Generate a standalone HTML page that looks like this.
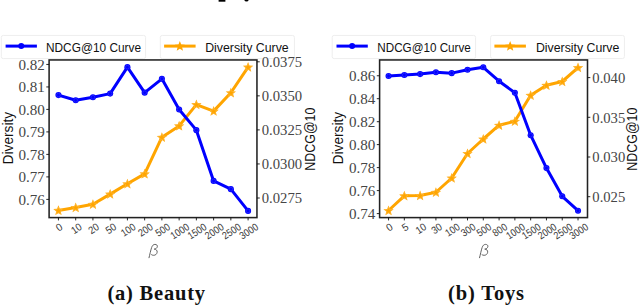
<!DOCTYPE html>
<html><head><meta charset="utf-8"><style>
html,body{margin:0;padding:0;background:#fff;width:640px;height:307px;overflow:hidden;}
svg{display:block;}
</style></head><body>
<svg width="640" height="307" viewBox="0 0 640 307"><rect x="218.6" y="0" width="6.8" height="1.7" fill="#000"/>
<ellipse cx="246.5" cy="0.2" rx="1.9" ry="1.4" fill="#000"/>
<rect x="1.3" y="35.4" width="144.29999999999998" height="23.2" rx="2" fill="#fff" stroke="#eeeeee" stroke-width="1"/>
<rect x="160.3" y="35.4" width="134.09999999999997" height="23.2" rx="2" fill="#fff" stroke="#eeeeee" stroke-width="1"/>
<line x1="5.6" y1="46.1" x2="36.9" y2="46.1" stroke="#0000ff" stroke-width="3"/>
<circle cx="21.25" cy="46.1" r="3" fill="#0000ff"/>
<text x="46.0" y="51.5" style="font-family:'Liberation Sans', sans-serif;font-size:13.2px;font-weight:normal;font-style:normal" text-anchor="start" fill="#111" textLength="95" lengthAdjust="spacingAndGlyphs" >NDCG@10 Curve</text>
<line x1="164.10000000000002" y1="46.1" x2="195.60000000000002" y2="46.1" stroke="#ffa500" stroke-width="3"/>
<polygon points="179.85,41.10 181.22,44.51 184.89,44.76 182.07,47.12 182.97,50.69 179.85,48.73 176.73,50.69 177.63,47.12 174.81,44.76 178.48,44.51" fill="#ffa500"/>
<text x="205.2" y="51.5" style="font-family:'Liberation Sans', sans-serif;font-size:13.2px;font-weight:normal;font-style:normal" text-anchor="start" fill="#111" textLength="83.5" lengthAdjust="spacingAndGlyphs" >Diversity Curve</text>
<rect x="49.1" y="59.95" width="207.85" height="157.64999999999998" fill="none" stroke="#222" stroke-width="1.55"/>
<line x1="46.300000000000004" y1="64.45" x2="49.1" y2="64.45" stroke="#111" stroke-width="0.9"/>
<text x="44.800000000000004" y="69.7" style="font-family:'Liberation Serif', serif;font-size:15.4px;font-weight:normal;font-style:normal" text-anchor="end" fill="#454545" textLength="26.4" lengthAdjust="spacingAndGlyphs" >0.82</text>
<line x1="46.300000000000004" y1="86.95" x2="49.1" y2="86.95" stroke="#111" stroke-width="0.9"/>
<text x="44.800000000000004" y="92.2" style="font-family:'Liberation Serif', serif;font-size:15.4px;font-weight:normal;font-style:normal" text-anchor="end" fill="#454545" textLength="26.4" lengthAdjust="spacingAndGlyphs" >0.81</text>
<line x1="46.300000000000004" y1="109.4" x2="49.1" y2="109.4" stroke="#111" stroke-width="0.9"/>
<text x="44.800000000000004" y="114.65" style="font-family:'Liberation Serif', serif;font-size:15.4px;font-weight:normal;font-style:normal" text-anchor="end" fill="#454545" textLength="26.4" lengthAdjust="spacingAndGlyphs" >0.80</text>
<line x1="46.300000000000004" y1="131.9" x2="49.1" y2="131.9" stroke="#111" stroke-width="0.9"/>
<text x="44.800000000000004" y="137.15" style="font-family:'Liberation Serif', serif;font-size:15.4px;font-weight:normal;font-style:normal" text-anchor="end" fill="#454545" textLength="26.4" lengthAdjust="spacingAndGlyphs" >0.79</text>
<line x1="46.300000000000004" y1="154.4" x2="49.1" y2="154.4" stroke="#111" stroke-width="0.9"/>
<text x="44.800000000000004" y="159.65" style="font-family:'Liberation Serif', serif;font-size:15.4px;font-weight:normal;font-style:normal" text-anchor="end" fill="#454545" textLength="26.4" lengthAdjust="spacingAndGlyphs" >0.78</text>
<line x1="46.300000000000004" y1="176.9" x2="49.1" y2="176.9" stroke="#111" stroke-width="0.9"/>
<text x="44.800000000000004" y="182.15" style="font-family:'Liberation Serif', serif;font-size:15.4px;font-weight:normal;font-style:normal" text-anchor="end" fill="#454545" textLength="26.4" lengthAdjust="spacingAndGlyphs" >0.77</text>
<line x1="46.300000000000004" y1="199.4" x2="49.1" y2="199.4" stroke="#111" stroke-width="0.9"/>
<text x="44.800000000000004" y="204.65" style="font-family:'Liberation Serif', serif;font-size:15.4px;font-weight:normal;font-style:normal" text-anchor="end" fill="#454545" textLength="26.4" lengthAdjust="spacingAndGlyphs" >0.76</text>
<line x1="256.95" y1="61.8" x2="259.75" y2="61.8" stroke="#111" stroke-width="0.9"/>
<text x="261.75" y="67.05" style="font-family:'Liberation Serif', serif;font-size:15.4px;font-weight:normal;font-style:normal" text-anchor="start" fill="#454545" textLength="40.4" lengthAdjust="spacingAndGlyphs" >0.0375</text>
<line x1="256.95" y1="95.85" x2="259.75" y2="95.85" stroke="#111" stroke-width="0.9"/>
<text x="261.75" y="101.1" style="font-family:'Liberation Serif', serif;font-size:15.4px;font-weight:normal;font-style:normal" text-anchor="start" fill="#454545" textLength="40.4" lengthAdjust="spacingAndGlyphs" >0.0350</text>
<line x1="256.95" y1="129.9" x2="259.75" y2="129.9" stroke="#111" stroke-width="0.9"/>
<text x="261.75" y="135.15" style="font-family:'Liberation Serif', serif;font-size:15.4px;font-weight:normal;font-style:normal" text-anchor="start" fill="#454545" textLength="40.4" lengthAdjust="spacingAndGlyphs" >0.0325</text>
<line x1="256.95" y1="163.95" x2="259.75" y2="163.95" stroke="#111" stroke-width="0.9"/>
<text x="261.75" y="169.2" style="font-family:'Liberation Serif', serif;font-size:15.4px;font-weight:normal;font-style:normal" text-anchor="start" fill="#454545" textLength="40.4" lengthAdjust="spacingAndGlyphs" >0.0300</text>
<line x1="256.95" y1="198.0" x2="259.75" y2="198.0" stroke="#111" stroke-width="0.9"/>
<text x="261.75" y="203.25" style="font-family:'Liberation Serif', serif;font-size:15.4px;font-weight:normal;font-style:normal" text-anchor="start" fill="#454545" textLength="40.4" lengthAdjust="spacingAndGlyphs" >0.0275</text>
<line x1="58.45" y1="217.6" x2="58.45" y2="220.4" stroke="#111" stroke-width="0.9"/>
<g transform="translate(59.05,227.01) rotate(-33)"><text x="0" y="3.8" style="font-family:'Liberation Sans', sans-serif;font-size:10.4px;font-weight:normal;font-style:normal" text-anchor="middle" fill="#3a3a3a" textLength="5.6" lengthAdjust="spacingAndGlyphs" >0</text></g>
<line x1="75.69" y1="217.6" x2="75.69" y2="220.4" stroke="#111" stroke-width="0.9"/>
<g transform="translate(76.29,228.33) rotate(-33)"><text x="0" y="3.8" style="font-family:'Liberation Sans', sans-serif;font-size:10.4px;font-weight:normal;font-style:normal" text-anchor="middle" fill="#3a3a3a" textLength="10.5" lengthAdjust="spacingAndGlyphs" >10</text></g>
<line x1="92.93" y1="217.6" x2="92.93" y2="220.4" stroke="#111" stroke-width="0.9"/>
<g transform="translate(93.53,228.33) rotate(-33)"><text x="0" y="3.8" style="font-family:'Liberation Sans', sans-serif;font-size:10.4px;font-weight:normal;font-style:normal" text-anchor="middle" fill="#3a3a3a" textLength="10.5" lengthAdjust="spacingAndGlyphs" >20</text></g>
<line x1="110.17" y1="217.6" x2="110.17" y2="220.4" stroke="#111" stroke-width="0.9"/>
<g transform="translate(110.77,228.33) rotate(-33)"><text x="0" y="3.8" style="font-family:'Liberation Sans', sans-serif;font-size:10.4px;font-weight:normal;font-style:normal" text-anchor="middle" fill="#3a3a3a" textLength="10.5" lengthAdjust="spacingAndGlyphs" >50</text></g>
<line x1="127.41" y1="217.6" x2="127.41" y2="220.4" stroke="#111" stroke-width="0.9"/>
<g transform="translate(128.01,229.65) rotate(-33)"><text x="0" y="3.8" style="font-family:'Liberation Sans', sans-serif;font-size:10.4px;font-weight:normal;font-style:normal" text-anchor="middle" fill="#3a3a3a" textLength="15.3" lengthAdjust="spacingAndGlyphs" >100</text></g>
<line x1="144.65" y1="217.6" x2="144.65" y2="220.4" stroke="#111" stroke-width="0.9"/>
<g transform="translate(145.25,229.65) rotate(-33)"><text x="0" y="3.8" style="font-family:'Liberation Sans', sans-serif;font-size:10.4px;font-weight:normal;font-style:normal" text-anchor="middle" fill="#3a3a3a" textLength="15.3" lengthAdjust="spacingAndGlyphs" >200</text></g>
<line x1="161.89" y1="217.6" x2="161.89" y2="220.4" stroke="#111" stroke-width="0.9"/>
<g transform="translate(162.49,229.65) rotate(-33)"><text x="0" y="3.8" style="font-family:'Liberation Sans', sans-serif;font-size:10.4px;font-weight:normal;font-style:normal" text-anchor="middle" fill="#3a3a3a" textLength="15.3" lengthAdjust="spacingAndGlyphs" >500</text></g>
<line x1="179.13" y1="217.6" x2="179.13" y2="220.4" stroke="#111" stroke-width="0.9"/>
<g transform="translate(179.73,230.97) rotate(-33)"><text x="0" y="3.8" style="font-family:'Liberation Sans', sans-serif;font-size:10.4px;font-weight:normal;font-style:normal" text-anchor="middle" fill="#3a3a3a" textLength="20.2" lengthAdjust="spacingAndGlyphs" >1000</text></g>
<line x1="196.37" y1="217.6" x2="196.37" y2="220.4" stroke="#111" stroke-width="0.9"/>
<g transform="translate(196.97,230.97) rotate(-33)"><text x="0" y="3.8" style="font-family:'Liberation Sans', sans-serif;font-size:10.4px;font-weight:normal;font-style:normal" text-anchor="middle" fill="#3a3a3a" textLength="20.2" lengthAdjust="spacingAndGlyphs" >1500</text></g>
<line x1="213.61" y1="217.6" x2="213.61" y2="220.4" stroke="#111" stroke-width="0.9"/>
<g transform="translate(214.21,230.97) rotate(-33)"><text x="0" y="3.8" style="font-family:'Liberation Sans', sans-serif;font-size:10.4px;font-weight:normal;font-style:normal" text-anchor="middle" fill="#3a3a3a" textLength="20.2" lengthAdjust="spacingAndGlyphs" >2000</text></g>
<line x1="230.85" y1="217.6" x2="230.85" y2="220.4" stroke="#111" stroke-width="0.9"/>
<g transform="translate(231.45,230.97) rotate(-33)"><text x="0" y="3.8" style="font-family:'Liberation Sans', sans-serif;font-size:10.4px;font-weight:normal;font-style:normal" text-anchor="middle" fill="#3a3a3a" textLength="20.2" lengthAdjust="spacingAndGlyphs" >2500</text></g>
<line x1="248.09" y1="217.6" x2="248.09" y2="220.4" stroke="#111" stroke-width="0.9"/>
<g transform="translate(248.69,230.97) rotate(-33)"><text x="0" y="3.8" style="font-family:'Liberation Sans', sans-serif;font-size:10.4px;font-weight:normal;font-style:normal" text-anchor="middle" fill="#3a3a3a" textLength="20.2" lengthAdjust="spacingAndGlyphs" >3000</text></g>
<polyline points="58.45,210.4 75.69,207.5 92.93,204.25 110.17,194.1 127.41,183.8 144.65,173.9 161.89,137.2 179.13,125.9 196.37,104.6 213.61,111.1 230.85,92.75 248.09,67.1" fill="none" stroke="#ffa500" stroke-width="3" stroke-linejoin="round"/>
<polygon points="58.45,205.35 59.85,208.83 63.59,209.08 60.71,211.48 61.62,215.12 58.45,213.13 55.28,215.12 56.19,211.48 53.31,209.08 57.05,208.83" fill="#ffa500"/>
<polygon points="58.45,206.75 59.48,209.33 62.25,209.51 60.12,211.29 60.80,213.99 58.45,212.51 56.10,213.99 56.78,211.29 54.65,209.51 57.42,209.33" fill="none" stroke="#ffd080" stroke-width="0.5" opacity="0.6"/>
<polygon points="75.69,202.45 77.09,205.93 80.83,206.18 77.95,208.58 78.86,212.22 75.69,210.23 72.52,212.22 73.43,208.58 70.55,206.18 74.29,205.93" fill="#ffa500"/>
<polygon points="75.69,203.85 76.72,206.43 79.49,206.61 77.36,208.39 78.04,211.09 75.69,209.61 73.34,211.09 74.02,208.39 71.89,206.61 74.66,206.43" fill="none" stroke="#ffd080" stroke-width="0.5" opacity="0.6"/>
<polygon points="92.93,199.20 94.33,202.68 98.07,202.93 95.19,205.33 96.10,208.97 92.93,206.98 89.76,208.97 90.67,205.33 87.79,202.93 91.53,202.68" fill="#ffa500"/>
<polygon points="92.93,200.60 93.96,203.18 96.73,203.36 94.60,205.14 95.28,207.84 92.93,206.36 90.58,207.84 91.26,205.14 89.13,203.36 91.90,203.18" fill="none" stroke="#ffd080" stroke-width="0.5" opacity="0.6"/>
<polygon points="110.17,189.05 111.57,192.53 115.31,192.78 112.43,195.18 113.34,198.82 110.17,196.83 107.00,198.82 107.91,195.18 105.03,192.78 108.77,192.53" fill="#ffa500"/>
<polygon points="110.17,190.45 111.20,193.03 113.97,193.21 111.84,194.99 112.52,197.69 110.17,196.21 107.82,197.69 108.50,194.99 106.37,193.21 109.14,193.03" fill="none" stroke="#ffd080" stroke-width="0.5" opacity="0.6"/>
<polygon points="127.41,178.75 128.81,182.23 132.55,182.48 129.67,184.88 130.58,188.52 127.41,186.53 124.24,188.52 125.15,184.88 122.27,182.48 126.01,182.23" fill="#ffa500"/>
<polygon points="127.41,180.15 128.44,182.73 131.21,182.91 129.08,184.69 129.76,187.39 127.41,185.91 125.06,187.39 125.74,184.69 123.61,182.91 126.38,182.73" fill="none" stroke="#ffd080" stroke-width="0.5" opacity="0.6"/>
<polygon points="144.65,168.85 146.05,172.33 149.79,172.58 146.91,174.98 147.82,178.62 144.65,176.63 141.48,178.62 142.39,174.98 139.51,172.58 143.25,172.33" fill="#ffa500"/>
<polygon points="144.65,170.25 145.68,172.83 148.45,173.01 146.32,174.79 147.00,177.49 144.65,176.01 142.30,177.49 142.98,174.79 140.85,173.01 143.62,172.83" fill="none" stroke="#ffd080" stroke-width="0.5" opacity="0.6"/>
<polygon points="161.89,132.15 163.29,135.63 167.03,135.88 164.15,138.28 165.06,141.92 161.89,139.93 158.72,141.92 159.63,138.28 156.75,135.88 160.49,135.63" fill="#ffa500"/>
<polygon points="161.89,133.55 162.92,136.13 165.69,136.31 163.56,138.09 164.24,140.79 161.89,139.31 159.54,140.79 160.22,138.09 158.09,136.31 160.86,136.13" fill="none" stroke="#ffd080" stroke-width="0.5" opacity="0.6"/>
<polygon points="179.13,120.85 180.53,124.33 184.27,124.58 181.39,126.98 182.30,130.62 179.13,128.63 175.96,130.62 176.87,126.98 173.99,124.58 177.73,124.33" fill="#ffa500"/>
<polygon points="179.13,122.25 180.16,124.83 182.93,125.01 180.80,126.79 181.48,129.49 179.13,128.01 176.78,129.49 177.46,126.79 175.33,125.01 178.10,124.83" fill="none" stroke="#ffd080" stroke-width="0.5" opacity="0.6"/>
<polygon points="196.37,99.55 197.77,103.03 201.51,103.28 198.63,105.68 199.54,109.32 196.37,107.33 193.20,109.32 194.11,105.68 191.23,103.28 194.97,103.03" fill="#ffa500"/>
<polygon points="196.37,100.95 197.40,103.53 200.17,103.71 198.04,105.49 198.72,108.19 196.37,106.71 194.02,108.19 194.70,105.49 192.57,103.71 195.34,103.53" fill="none" stroke="#ffd080" stroke-width="0.5" opacity="0.6"/>
<polygon points="213.61,106.05 215.01,109.53 218.75,109.78 215.87,112.18 216.78,115.82 213.61,113.83 210.44,115.82 211.35,112.18 208.47,109.78 212.21,109.53" fill="#ffa500"/>
<polygon points="213.61,107.45 214.64,110.03 217.41,110.21 215.28,111.99 215.96,114.69 213.61,113.21 211.26,114.69 211.94,111.99 209.81,110.21 212.58,110.03" fill="none" stroke="#ffd080" stroke-width="0.5" opacity="0.6"/>
<polygon points="230.85,87.70 232.25,91.18 235.99,91.43 233.11,93.83 234.02,97.47 230.85,95.48 227.68,97.47 228.59,93.83 225.71,91.43 229.45,91.18" fill="#ffa500"/>
<polygon points="230.85,89.10 231.88,91.68 234.65,91.86 232.52,93.64 233.20,96.34 230.85,94.86 228.50,96.34 229.18,93.64 227.05,91.86 229.82,91.68" fill="none" stroke="#ffd080" stroke-width="0.5" opacity="0.6"/>
<polygon points="248.09,62.05 249.49,65.53 253.23,65.78 250.35,68.18 251.26,71.82 248.09,69.83 244.92,71.82 245.83,68.18 242.95,65.78 246.69,65.53" fill="#ffa500"/>
<polygon points="248.09,63.45 249.12,66.03 251.89,66.21 249.76,67.99 250.44,70.69 248.09,69.21 245.74,70.69 246.42,67.99 244.29,66.21 247.06,66.03" fill="none" stroke="#ffd080" stroke-width="0.5" opacity="0.6"/>
<polyline points="58.45,95.10000000000001 75.69,100.30000000000001 92.93,97.30000000000001 110.17,93.60000000000001 127.41,67.15 144.65,92.65 161.89,78.80000000000001 179.13,109.5 196.37,130.15 213.61,180.9 230.85,189.15 248.09,210.9" fill="none" stroke="#0000ff" stroke-width="3" stroke-linejoin="round"/>
<circle cx="58.45" cy="95.10000000000001" r="3.05" fill="#0000ff"/><circle cx="58.45" cy="95.10000000000001" r="1.9" fill="none" stroke="#7a7aff" stroke-width="0.5" opacity="0.55"/>
<circle cx="75.69" cy="100.30000000000001" r="3.05" fill="#0000ff"/><circle cx="75.69" cy="100.30000000000001" r="1.9" fill="none" stroke="#7a7aff" stroke-width="0.5" opacity="0.55"/>
<circle cx="92.93" cy="97.30000000000001" r="3.05" fill="#0000ff"/><circle cx="92.93" cy="97.30000000000001" r="1.9" fill="none" stroke="#7a7aff" stroke-width="0.5" opacity="0.55"/>
<circle cx="110.17" cy="93.60000000000001" r="3.05" fill="#0000ff"/><circle cx="110.17" cy="93.60000000000001" r="1.9" fill="none" stroke="#7a7aff" stroke-width="0.5" opacity="0.55"/>
<circle cx="127.41" cy="67.15" r="3.05" fill="#0000ff"/><circle cx="127.41" cy="67.15" r="1.9" fill="none" stroke="#7a7aff" stroke-width="0.5" opacity="0.55"/>
<circle cx="144.65" cy="92.65" r="3.05" fill="#0000ff"/><circle cx="144.65" cy="92.65" r="1.9" fill="none" stroke="#7a7aff" stroke-width="0.5" opacity="0.55"/>
<circle cx="161.89" cy="78.80000000000001" r="3.05" fill="#0000ff"/><circle cx="161.89" cy="78.80000000000001" r="1.9" fill="none" stroke="#7a7aff" stroke-width="0.5" opacity="0.55"/>
<circle cx="179.13" cy="109.5" r="3.05" fill="#0000ff"/><circle cx="179.13" cy="109.5" r="1.9" fill="none" stroke="#7a7aff" stroke-width="0.5" opacity="0.55"/>
<circle cx="196.37" cy="130.15" r="3.05" fill="#0000ff"/><circle cx="196.37" cy="130.15" r="1.9" fill="none" stroke="#7a7aff" stroke-width="0.5" opacity="0.55"/>
<circle cx="213.61" cy="180.9" r="3.05" fill="#0000ff"/><circle cx="213.61" cy="180.9" r="1.9" fill="none" stroke="#7a7aff" stroke-width="0.5" opacity="0.55"/>
<circle cx="230.85" cy="189.15" r="3.05" fill="#0000ff"/><circle cx="230.85" cy="189.15" r="1.9" fill="none" stroke="#7a7aff" stroke-width="0.5" opacity="0.55"/>
<circle cx="248.09" cy="210.9" r="3.05" fill="#0000ff"/><circle cx="248.09" cy="210.9" r="1.9" fill="none" stroke="#7a7aff" stroke-width="0.5" opacity="0.55"/>
<g transform="translate(12.7,138.1) rotate(-90)"><text x="0" y="0" style="font-family:'Liberation Sans', sans-serif;font-size:15px;font-weight:normal;font-style:normal" text-anchor="middle" fill="#111" textLength="52.6" lengthAdjust="spacingAndGlyphs" >Diversity</text></g>
<g transform="translate(315.0,139.2) rotate(-90)"><text x="0" y="0" style="font-family:'Liberation Sans', sans-serif;font-size:15px;font-weight:normal;font-style:normal" text-anchor="middle" fill="#111" textLength="63.0" lengthAdjust="spacingAndGlyphs" >NDCG@10</text></g>
<path transform="translate(0.03,0.5)" d="M148.9,257.6 C149.8,254 150.6,250 151.6,247 C152.3,245 153.3,244 154.8,243.9 C156.5,243.8 157.6,244.8 157.3,246.2 C157,247.6 155.8,248.4 154.2,248.6 C156.2,248.8 157.4,250 157.1,251.8 C156.8,253.8 155.2,254.8 153.6,254.8 C152.6,254.8 151.8,254.5 151.2,254" fill="none" stroke="#5a5a5a" stroke-width="0.95"/>
<text x="156.25" y="300.3" style="font-family:'Liberation Serif', serif;font-size:20.5px;font-weight:bold;font-style:normal" text-anchor="middle" fill="#111" textLength="97.5" lengthAdjust="spacing" >(a) Beauty</text>
<rect x="332.2" y="35.4" width="143.40000000000003" height="23.2" rx="2" fill="#fff" stroke="#eeeeee" stroke-width="1"/>
<rect x="490.6" y="35.4" width="133.79999999999995" height="23.2" rx="2" fill="#fff" stroke="#eeeeee" stroke-width="1"/>
<line x1="336.5" y1="46.1" x2="367.8" y2="46.1" stroke="#0000ff" stroke-width="3"/>
<circle cx="352.15" cy="46.1" r="3" fill="#0000ff"/>
<text x="377.3" y="51.5" style="font-family:'Liberation Sans', sans-serif;font-size:13.2px;font-weight:normal;font-style:normal" text-anchor="start" fill="#111" textLength="93.5" lengthAdjust="spacingAndGlyphs" >NDCG@10 Curve</text>
<line x1="494.40000000000003" y1="46.1" x2="525.9000000000001" y2="46.1" stroke="#ffa500" stroke-width="3"/>
<polygon points="510.15,41.10 511.52,44.51 515.19,44.76 512.37,47.12 513.27,50.69 510.15,48.73 507.03,50.69 507.93,47.12 505.11,44.76 508.78,44.51" fill="#ffa500"/>
<text x="535.9" y="51.5" style="font-family:'Liberation Sans', sans-serif;font-size:13.2px;font-weight:normal;font-style:normal" text-anchor="start" fill="#111" textLength="83.5" lengthAdjust="spacingAndGlyphs" >Diversity Curve</text>
<rect x="379.6" y="59.95" width="207.89999999999998" height="157.64999999999998" fill="none" stroke="#222" stroke-width="1.55"/>
<line x1="376.8" y1="75.75" x2="379.6" y2="75.75" stroke="#111" stroke-width="0.9"/>
<text x="375.3" y="81.0" style="font-family:'Liberation Serif', serif;font-size:15.4px;font-weight:normal;font-style:normal" text-anchor="end" fill="#454545" textLength="26.4" lengthAdjust="spacingAndGlyphs" >0.86</text>
<line x1="376.8" y1="98.7" x2="379.6" y2="98.7" stroke="#111" stroke-width="0.9"/>
<text x="375.3" y="103.95" style="font-family:'Liberation Serif', serif;font-size:15.4px;font-weight:normal;font-style:normal" text-anchor="end" fill="#454545" textLength="26.4" lengthAdjust="spacingAndGlyphs" >0.84</text>
<line x1="376.8" y1="121.7" x2="379.6" y2="121.7" stroke="#111" stroke-width="0.9"/>
<text x="375.3" y="126.95" style="font-family:'Liberation Serif', serif;font-size:15.4px;font-weight:normal;font-style:normal" text-anchor="end" fill="#454545" textLength="26.4" lengthAdjust="spacingAndGlyphs" >0.82</text>
<line x1="376.8" y1="144.6" x2="379.6" y2="144.6" stroke="#111" stroke-width="0.9"/>
<text x="375.3" y="149.85" style="font-family:'Liberation Serif', serif;font-size:15.4px;font-weight:normal;font-style:normal" text-anchor="end" fill="#454545" textLength="26.4" lengthAdjust="spacingAndGlyphs" >0.80</text>
<line x1="376.8" y1="167.6" x2="379.6" y2="167.6" stroke="#111" stroke-width="0.9"/>
<text x="375.3" y="172.85" style="font-family:'Liberation Serif', serif;font-size:15.4px;font-weight:normal;font-style:normal" text-anchor="end" fill="#454545" textLength="26.4" lengthAdjust="spacingAndGlyphs" >0.78</text>
<line x1="376.8" y1="190.6" x2="379.6" y2="190.6" stroke="#111" stroke-width="0.9"/>
<text x="375.3" y="195.85" style="font-family:'Liberation Serif', serif;font-size:15.4px;font-weight:normal;font-style:normal" text-anchor="end" fill="#454545" textLength="26.4" lengthAdjust="spacingAndGlyphs" >0.76</text>
<line x1="376.8" y1="213.6" x2="379.6" y2="213.6" stroke="#111" stroke-width="0.9"/>
<text x="375.3" y="218.85" style="font-family:'Liberation Serif', serif;font-size:15.4px;font-weight:normal;font-style:normal" text-anchor="end" fill="#454545" textLength="26.4" lengthAdjust="spacingAndGlyphs" >0.74</text>
<line x1="587.5" y1="77.6" x2="590.3" y2="77.6" stroke="#111" stroke-width="0.9"/>
<text x="592.3" y="82.85" style="font-family:'Liberation Serif', serif;font-size:15.4px;font-weight:normal;font-style:normal" text-anchor="start" fill="#454545" textLength="33.0" lengthAdjust="spacingAndGlyphs" >0.040</text>
<line x1="587.5" y1="117.3" x2="590.3" y2="117.3" stroke="#111" stroke-width="0.9"/>
<text x="592.3" y="122.55" style="font-family:'Liberation Serif', serif;font-size:15.4px;font-weight:normal;font-style:normal" text-anchor="start" fill="#454545" textLength="33.0" lengthAdjust="spacingAndGlyphs" >0.035</text>
<line x1="587.5" y1="157.0" x2="590.3" y2="157.0" stroke="#111" stroke-width="0.9"/>
<text x="592.3" y="162.25" style="font-family:'Liberation Serif', serif;font-size:15.4px;font-weight:normal;font-style:normal" text-anchor="start" fill="#454545" textLength="33.0" lengthAdjust="spacingAndGlyphs" >0.030</text>
<line x1="587.5" y1="196.7" x2="590.3" y2="196.7" stroke="#111" stroke-width="0.9"/>
<text x="592.3" y="201.95" style="font-family:'Liberation Serif', serif;font-size:15.4px;font-weight:normal;font-style:normal" text-anchor="start" fill="#454545" textLength="33.0" lengthAdjust="spacingAndGlyphs" >0.025</text>
<line x1="388.55" y1="217.6" x2="388.55" y2="220.4" stroke="#111" stroke-width="0.9"/>
<g transform="translate(389.15,227.01) rotate(-33)"><text x="0" y="3.8" style="font-family:'Liberation Sans', sans-serif;font-size:10.4px;font-weight:normal;font-style:normal" text-anchor="middle" fill="#3a3a3a" textLength="5.6" lengthAdjust="spacingAndGlyphs" >0</text></g>
<line x1="404.34" y1="217.6" x2="404.34" y2="220.4" stroke="#111" stroke-width="0.9"/>
<g transform="translate(404.94,227.01) rotate(-33)"><text x="0" y="3.8" style="font-family:'Liberation Sans', sans-serif;font-size:10.4px;font-weight:normal;font-style:normal" text-anchor="middle" fill="#3a3a3a" textLength="5.6" lengthAdjust="spacingAndGlyphs" >5</text></g>
<line x1="420.13" y1="217.6" x2="420.13" y2="220.4" stroke="#111" stroke-width="0.9"/>
<g transform="translate(420.73,228.33) rotate(-33)"><text x="0" y="3.8" style="font-family:'Liberation Sans', sans-serif;font-size:10.4px;font-weight:normal;font-style:normal" text-anchor="middle" fill="#3a3a3a" textLength="10.5" lengthAdjust="spacingAndGlyphs" >10</text></g>
<line x1="435.92" y1="217.6" x2="435.92" y2="220.4" stroke="#111" stroke-width="0.9"/>
<g transform="translate(436.52,228.33) rotate(-33)"><text x="0" y="3.8" style="font-family:'Liberation Sans', sans-serif;font-size:10.4px;font-weight:normal;font-style:normal" text-anchor="middle" fill="#3a3a3a" textLength="10.5" lengthAdjust="spacingAndGlyphs" >30</text></g>
<line x1="451.71" y1="217.6" x2="451.71" y2="220.4" stroke="#111" stroke-width="0.9"/>
<g transform="translate(452.31,229.65) rotate(-33)"><text x="0" y="3.8" style="font-family:'Liberation Sans', sans-serif;font-size:10.4px;font-weight:normal;font-style:normal" text-anchor="middle" fill="#3a3a3a" textLength="15.3" lengthAdjust="spacingAndGlyphs" >100</text></g>
<line x1="467.50" y1="217.6" x2="467.50" y2="220.4" stroke="#111" stroke-width="0.9"/>
<g transform="translate(468.10,229.65) rotate(-33)"><text x="0" y="3.8" style="font-family:'Liberation Sans', sans-serif;font-size:10.4px;font-weight:normal;font-style:normal" text-anchor="middle" fill="#3a3a3a" textLength="15.3" lengthAdjust="spacingAndGlyphs" >300</text></g>
<line x1="483.29" y1="217.6" x2="483.29" y2="220.4" stroke="#111" stroke-width="0.9"/>
<g transform="translate(483.89,229.65) rotate(-33)"><text x="0" y="3.8" style="font-family:'Liberation Sans', sans-serif;font-size:10.4px;font-weight:normal;font-style:normal" text-anchor="middle" fill="#3a3a3a" textLength="15.3" lengthAdjust="spacingAndGlyphs" >500</text></g>
<line x1="499.08" y1="217.6" x2="499.08" y2="220.4" stroke="#111" stroke-width="0.9"/>
<g transform="translate(499.68,229.65) rotate(-33)"><text x="0" y="3.8" style="font-family:'Liberation Sans', sans-serif;font-size:10.4px;font-weight:normal;font-style:normal" text-anchor="middle" fill="#3a3a3a" textLength="15.3" lengthAdjust="spacingAndGlyphs" >800</text></g>
<line x1="514.87" y1="217.6" x2="514.87" y2="220.4" stroke="#111" stroke-width="0.9"/>
<g transform="translate(515.47,230.97) rotate(-33)"><text x="0" y="3.8" style="font-family:'Liberation Sans', sans-serif;font-size:10.4px;font-weight:normal;font-style:normal" text-anchor="middle" fill="#3a3a3a" textLength="20.2" lengthAdjust="spacingAndGlyphs" >1000</text></g>
<line x1="530.66" y1="217.6" x2="530.66" y2="220.4" stroke="#111" stroke-width="0.9"/>
<g transform="translate(531.26,230.97) rotate(-33)"><text x="0" y="3.8" style="font-family:'Liberation Sans', sans-serif;font-size:10.4px;font-weight:normal;font-style:normal" text-anchor="middle" fill="#3a3a3a" textLength="20.2" lengthAdjust="spacingAndGlyphs" >1500</text></g>
<line x1="546.45" y1="217.6" x2="546.45" y2="220.4" stroke="#111" stroke-width="0.9"/>
<g transform="translate(547.05,230.97) rotate(-33)"><text x="0" y="3.8" style="font-family:'Liberation Sans', sans-serif;font-size:10.4px;font-weight:normal;font-style:normal" text-anchor="middle" fill="#3a3a3a" textLength="20.2" lengthAdjust="spacingAndGlyphs" >2000</text></g>
<line x1="562.24" y1="217.6" x2="562.24" y2="220.4" stroke="#111" stroke-width="0.9"/>
<g transform="translate(562.84,230.97) rotate(-33)"><text x="0" y="3.8" style="font-family:'Liberation Sans', sans-serif;font-size:10.4px;font-weight:normal;font-style:normal" text-anchor="middle" fill="#3a3a3a" textLength="20.2" lengthAdjust="spacingAndGlyphs" >2500</text></g>
<line x1="578.03" y1="217.6" x2="578.03" y2="220.4" stroke="#111" stroke-width="0.9"/>
<g transform="translate(578.63,230.97) rotate(-33)"><text x="0" y="3.8" style="font-family:'Liberation Sans', sans-serif;font-size:10.4px;font-weight:normal;font-style:normal" text-anchor="middle" fill="#3a3a3a" textLength="20.2" lengthAdjust="spacingAndGlyphs" >3000</text></g>
<polyline points="388.55,210.5 404.34,195.8 420.13,195.5 435.92,192.25 451.71,178.0 467.50,153.5 483.29,139.0 499.08,125.2 514.87,121.25 530.66,95.2 546.45,85.25 562.24,81.5 578.03,67.6" fill="none" stroke="#ffa500" stroke-width="3" stroke-linejoin="round"/>
<polygon points="388.55,205.45 389.95,208.93 393.69,209.18 390.81,211.58 391.72,215.22 388.55,213.23 385.38,215.22 386.29,211.58 383.41,209.18 387.15,208.93" fill="#ffa500"/>
<polygon points="388.55,206.85 389.58,209.43 392.35,209.61 390.22,211.39 390.90,214.09 388.55,212.61 386.20,214.09 386.88,211.39 384.75,209.61 387.52,209.43" fill="none" stroke="#ffd080" stroke-width="0.5" opacity="0.6"/>
<polygon points="404.34,190.75 405.74,194.23 409.48,194.48 406.60,196.88 407.51,200.52 404.34,198.53 401.17,200.52 402.08,196.88 399.20,194.48 402.94,194.23" fill="#ffa500"/>
<polygon points="404.34,192.15 405.37,194.73 408.14,194.91 406.01,196.69 406.69,199.39 404.34,197.91 401.99,199.39 402.67,196.69 400.54,194.91 403.31,194.73" fill="none" stroke="#ffd080" stroke-width="0.5" opacity="0.6"/>
<polygon points="420.13,190.45 421.53,193.93 425.27,194.18 422.39,196.58 423.30,200.22 420.13,198.23 416.96,200.22 417.87,196.58 414.99,194.18 418.73,193.93" fill="#ffa500"/>
<polygon points="420.13,191.85 421.16,194.43 423.93,194.61 421.80,196.39 422.48,199.09 420.13,197.61 417.78,199.09 418.46,196.39 416.33,194.61 419.10,194.43" fill="none" stroke="#ffd080" stroke-width="0.5" opacity="0.6"/>
<polygon points="435.92,187.20 437.32,190.68 441.06,190.93 438.18,193.33 439.09,196.97 435.92,194.98 432.75,196.97 433.66,193.33 430.78,190.93 434.52,190.68" fill="#ffa500"/>
<polygon points="435.92,188.60 436.95,191.18 439.72,191.36 437.59,193.14 438.27,195.84 435.92,194.36 433.57,195.84 434.25,193.14 432.12,191.36 434.89,191.18" fill="none" stroke="#ffd080" stroke-width="0.5" opacity="0.6"/>
<polygon points="451.71,172.95 453.11,176.43 456.85,176.68 453.97,179.08 454.88,182.72 451.71,180.73 448.54,182.72 449.45,179.08 446.57,176.68 450.31,176.43" fill="#ffa500"/>
<polygon points="451.71,174.35 452.74,176.93 455.51,177.11 453.38,178.89 454.06,181.59 451.71,180.11 449.36,181.59 450.04,178.89 447.91,177.11 450.68,176.93" fill="none" stroke="#ffd080" stroke-width="0.5" opacity="0.6"/>
<polygon points="467.50,148.45 468.90,151.93 472.64,152.18 469.76,154.58 470.67,158.22 467.50,156.23 464.33,158.22 465.24,154.58 462.36,152.18 466.10,151.93" fill="#ffa500"/>
<polygon points="467.50,149.85 468.53,152.43 471.30,152.61 469.17,154.39 469.85,157.09 467.50,155.61 465.15,157.09 465.83,154.39 463.70,152.61 466.47,152.43" fill="none" stroke="#ffd080" stroke-width="0.5" opacity="0.6"/>
<polygon points="483.29,133.95 484.69,137.43 488.43,137.68 485.55,140.08 486.46,143.72 483.29,141.73 480.12,143.72 481.03,140.08 478.15,137.68 481.89,137.43" fill="#ffa500"/>
<polygon points="483.29,135.35 484.32,137.93 487.09,138.11 484.96,139.89 485.64,142.59 483.29,141.11 480.94,142.59 481.62,139.89 479.49,138.11 482.26,137.93" fill="none" stroke="#ffd080" stroke-width="0.5" opacity="0.6"/>
<polygon points="499.08,120.15 500.48,123.63 504.22,123.88 501.34,126.28 502.25,129.92 499.08,127.93 495.91,129.92 496.82,126.28 493.94,123.88 497.68,123.63" fill="#ffa500"/>
<polygon points="499.08,121.55 500.11,124.13 502.88,124.31 500.75,126.09 501.43,128.79 499.08,127.31 496.73,128.79 497.41,126.09 495.28,124.31 498.05,124.13" fill="none" stroke="#ffd080" stroke-width="0.5" opacity="0.6"/>
<polygon points="514.87,116.20 516.27,119.68 520.01,119.93 517.13,122.33 518.04,125.97 514.87,123.98 511.70,125.97 512.61,122.33 509.73,119.93 513.47,119.68" fill="#ffa500"/>
<polygon points="514.87,117.60 515.90,120.18 518.67,120.36 516.54,122.14 517.22,124.84 514.87,123.36 512.52,124.84 513.20,122.14 511.07,120.36 513.84,120.18" fill="none" stroke="#ffd080" stroke-width="0.5" opacity="0.6"/>
<polygon points="530.66,90.15 532.06,93.63 535.80,93.88 532.92,96.28 533.83,99.92 530.66,97.93 527.49,99.92 528.40,96.28 525.52,93.88 529.26,93.63" fill="#ffa500"/>
<polygon points="530.66,91.55 531.69,94.13 534.46,94.31 532.33,96.09 533.01,98.79 530.66,97.31 528.31,98.79 528.99,96.09 526.86,94.31 529.63,94.13" fill="none" stroke="#ffd080" stroke-width="0.5" opacity="0.6"/>
<polygon points="546.45,80.20 547.85,83.68 551.59,83.93 548.71,86.33 549.62,89.97 546.45,87.98 543.28,89.97 544.19,86.33 541.31,83.93 545.05,83.68" fill="#ffa500"/>
<polygon points="546.45,81.60 547.48,84.18 550.25,84.36 548.12,86.14 548.80,88.84 546.45,87.36 544.10,88.84 544.78,86.14 542.65,84.36 545.42,84.18" fill="none" stroke="#ffd080" stroke-width="0.5" opacity="0.6"/>
<polygon points="562.24,76.45 563.64,79.93 567.38,80.18 564.50,82.58 565.41,86.22 562.24,84.23 559.07,86.22 559.98,82.58 557.10,80.18 560.84,79.93" fill="#ffa500"/>
<polygon points="562.24,77.85 563.27,80.43 566.04,80.61 563.91,82.39 564.59,85.09 562.24,83.61 559.89,85.09 560.57,82.39 558.44,80.61 561.21,80.43" fill="none" stroke="#ffd080" stroke-width="0.5" opacity="0.6"/>
<polygon points="578.03,62.55 579.43,66.03 583.17,66.28 580.29,68.68 581.20,72.32 578.03,70.33 574.86,72.32 575.77,68.68 572.89,66.28 576.63,66.03" fill="#ffa500"/>
<polygon points="578.03,63.95 579.06,66.53 581.83,66.71 579.70,68.49 580.38,71.19 578.03,69.71 575.68,71.19 576.36,68.49 574.23,66.71 577.00,66.53" fill="none" stroke="#ffd080" stroke-width="0.5" opacity="0.6"/>
<polyline points="388.55,76.0 404.34,75.0 420.13,74.10000000000001 435.92,72.2 451.71,73.15 467.50,69.80000000000001 483.29,67.30000000000001 499.08,81.2 514.87,92.80000000000001 530.66,135.20000000000002 546.45,168.1 562.24,196.3 578.03,210.70000000000002" fill="none" stroke="#0000ff" stroke-width="3" stroke-linejoin="round"/>
<circle cx="388.55" cy="76.0" r="3.05" fill="#0000ff"/><circle cx="388.55" cy="76.0" r="1.9" fill="none" stroke="#7a7aff" stroke-width="0.5" opacity="0.55"/>
<circle cx="404.34" cy="75.0" r="3.05" fill="#0000ff"/><circle cx="404.34" cy="75.0" r="1.9" fill="none" stroke="#7a7aff" stroke-width="0.5" opacity="0.55"/>
<circle cx="420.13" cy="74.10000000000001" r="3.05" fill="#0000ff"/><circle cx="420.13" cy="74.10000000000001" r="1.9" fill="none" stroke="#7a7aff" stroke-width="0.5" opacity="0.55"/>
<circle cx="435.92" cy="72.2" r="3.05" fill="#0000ff"/><circle cx="435.92" cy="72.2" r="1.9" fill="none" stroke="#7a7aff" stroke-width="0.5" opacity="0.55"/>
<circle cx="451.71" cy="73.15" r="3.05" fill="#0000ff"/><circle cx="451.71" cy="73.15" r="1.9" fill="none" stroke="#7a7aff" stroke-width="0.5" opacity="0.55"/>
<circle cx="467.50" cy="69.80000000000001" r="3.05" fill="#0000ff"/><circle cx="467.50" cy="69.80000000000001" r="1.9" fill="none" stroke="#7a7aff" stroke-width="0.5" opacity="0.55"/>
<circle cx="483.29" cy="67.30000000000001" r="3.05" fill="#0000ff"/><circle cx="483.29" cy="67.30000000000001" r="1.9" fill="none" stroke="#7a7aff" stroke-width="0.5" opacity="0.55"/>
<circle cx="499.08" cy="81.2" r="3.05" fill="#0000ff"/><circle cx="499.08" cy="81.2" r="1.9" fill="none" stroke="#7a7aff" stroke-width="0.5" opacity="0.55"/>
<circle cx="514.87" cy="92.80000000000001" r="3.05" fill="#0000ff"/><circle cx="514.87" cy="92.80000000000001" r="1.9" fill="none" stroke="#7a7aff" stroke-width="0.5" opacity="0.55"/>
<circle cx="530.66" cy="135.20000000000002" r="3.05" fill="#0000ff"/><circle cx="530.66" cy="135.20000000000002" r="1.9" fill="none" stroke="#7a7aff" stroke-width="0.5" opacity="0.55"/>
<circle cx="546.45" cy="168.1" r="3.05" fill="#0000ff"/><circle cx="546.45" cy="168.1" r="1.9" fill="none" stroke="#7a7aff" stroke-width="0.5" opacity="0.55"/>
<circle cx="562.24" cy="196.3" r="3.05" fill="#0000ff"/><circle cx="562.24" cy="196.3" r="1.9" fill="none" stroke="#7a7aff" stroke-width="0.5" opacity="0.55"/>
<circle cx="578.03" cy="210.70000000000002" r="3.05" fill="#0000ff"/><circle cx="578.03" cy="210.70000000000002" r="1.9" fill="none" stroke="#7a7aff" stroke-width="0.5" opacity="0.55"/>
<g transform="translate(343.2,138.1) rotate(-90)"><text x="0" y="0" style="font-family:'Liberation Sans', sans-serif;font-size:15px;font-weight:normal;font-style:normal" text-anchor="middle" fill="#111" textLength="52.6" lengthAdjust="spacingAndGlyphs" >Diversity</text></g>
<g transform="translate(637.4,139.2) rotate(-90)"><text x="0" y="0" style="font-family:'Liberation Sans', sans-serif;font-size:15px;font-weight:normal;font-style:normal" text-anchor="middle" fill="#111" textLength="63.0" lengthAdjust="spacingAndGlyphs" >NDCG@10</text></g>
<path transform="translate(330.55,0.5)" d="M148.9,257.6 C149.8,254 150.6,250 151.6,247 C152.3,245 153.3,244 154.8,243.9 C156.5,243.8 157.6,244.8 157.3,246.2 C157,247.6 155.8,248.4 154.2,248.6 C156.2,248.8 157.4,250 157.1,251.8 C156.8,253.8 155.2,254.8 153.6,254.8 C152.6,254.8 151.8,254.5 151.2,254" fill="none" stroke="#5a5a5a" stroke-width="0.95"/>
<text x="486.1" y="300.3" style="font-family:'Liberation Serif', serif;font-size:20.5px;font-weight:bold;font-style:normal" text-anchor="middle" fill="#111" textLength="76" lengthAdjust="spacing" >(b) Toys</text></svg>
</body></html>
